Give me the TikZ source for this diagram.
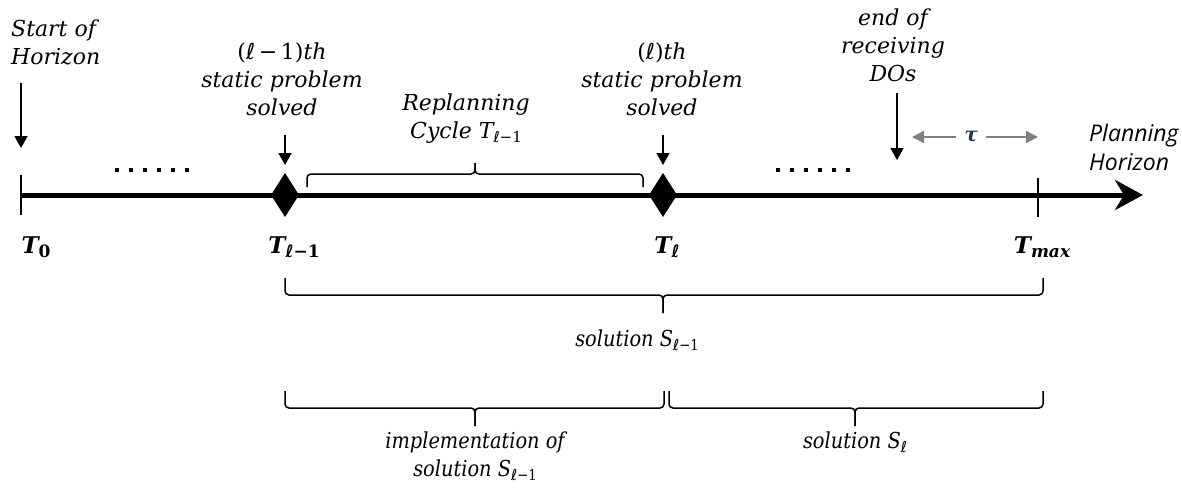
\documentclass[tikz,border=0pt]{standalone}
\usepackage{fontspec}
\setmainfont{DejaVu Serif}
\newfontfamily\narrowserif[FakeStretch=0.88]{DejaVu Serif}
\newfontfamily\sansit{Open Sans}
\newfontfamily\ellf{DejaVu Sans}
\usetikzlibrary{arrows.meta,calc}
\definecolor{taucol}{RGB}{35,50,90}
\definecolor{taugray}{RGB}{128,128,128}
\newcommand\myell{{\ellf ℓ}}
\newcommand\lsub[1]{\raisebox{-0.35ex}{\fontsize{15}{15}\selectfont #1}}
\newcommand\bsub[1]{\raisebox{-0.4ex}{\fontsize{17}{17}\selectfont #1}}
\newcommand\curly[6]{%
  \draw[bracestyle] (#1,#4) -- (#1,#5) -- (#3,#5) -- (#3,#6);
  \draw[bracestyle] (#2,#4) -- (#2,#5) -- (#3,#5) -- (#3,#6);}
\tikzset{
  lbl/.style={font=\fontsize{22}{28}\selectfont\itshape, align=center, inner sep=0pt},
  nlbl/.style={font=\narrowserif\fontsize{22}{28}\selectfont\itshape, align=center, inner sep=0pt},
  tlbl/.style={font=\fontsize{23}{26}\selectfont\bfseries\itshape, inner sep=0pt, anchor=base},
  pointer/.style={line width=1.6pt, -{Triangle[length=12pt,width=13pt]}},
  bracestyle/.style={line width=1.5pt, rounded corners=4pt},
  dotsq/.style={fill=black, minimum size=4.5pt, inner sep=0pt},
  tauarrow/.style={draw=taugray, line width=2pt, -{Triangle[length=12pt,width=12pt]}},
  axisline/.style={line width=5pt, -{Stealth[length=28pt,width=30pt,inset=9pt]}},
  tick/.style={line width=2pt}
}
\begin{document}
\begin{tikzpicture}[x=1pt,y=-1pt]
\useasboundingbox (0,0) rectangle (1182,488);
% axis
\coordinate (T0) at (20,195);
\coordinate (axisend) at (1143,195);
\draw[axisline] (T0) -- (axisend);
% ticks
\coordinate (t0top) at (21,175); \coordinate (t0bot) at (21,215);
\draw[tick] (t0top) -- (t0bot);
\coordinate (tmtop) at (1038,178); \coordinate (tmbot) at (1038,217);
\draw[tick] (tmtop) -- (tmbot);
% diamonds
\coordinate (dprev) at (285,195);
\coordinate (dcur) at (663,195);
\fill ($(dprev)+(0,-22)$) -- ($(dprev)+(14,0)$) -- ($(dprev)+(0,22)$) -- ($(dprev)+(-14,0)$) -- cycle;
\fill ($(dcur)+(0,-22)$) -- ($(dcur)+(14,0)$) -- ($(dcur)+(0,22)$) -- ($(dcur)+(-14,0)$) -- cycle;
% dots
\foreach \i in {0,...,5} {
  \node[dotsq] (da\i) at (117+14*\i,170) {};
  \node[dotsq] (db\i) at (778+14*\i,170) {};
}
% top labels
\node[lbl, align=left, anchor=west] (start) at (11,42) {Start of\\Horizon};
\node[lbl] (prevsolved) at (282,79) {{\upshape(}\myell\,{\upshape−\,1)}th\\static problem\\solved};
\node[lbl] (replan) at (466,119) {Replanning\\Cycle T\lsub{\myell{\upshape−1}}};
\node[lbl] (cursolved) at (662,79) {{\upshape(}\myell{\upshape)}th\\static problem\\solved};
\node[lbl] (enddo) at (893,45) {end of\\receiving\\DOs};
\node[font=\sansit\fontsize{23}{29}\selectfont\itshape, align=left, anchor=west, inner sep=0pt] (ph) at (1089,147) {Planning\\Horizon};
% pointer arrows
\coordinate (a1s) at (21,83); \coordinate (a1e) at (21,148);
\draw[pointer] (a1s) -- (a1e);
\coordinate (a2s) at (285,135); \coordinate (a2e) at (285,165);
\draw[pointer] (a2s) -- (a2e);
\coordinate (a3s) at (663,135); \coordinate (a3e) at (663,165);
\draw[pointer] (a3s) -- (a3e);
\coordinate (a4s) at (897,93); \coordinate (a4e) at (897,160);
\draw[pointer] (a4s) -- (a4e);
% tau
\node[font=\fontsize{20}{20}\selectfont\bfseries\itshape, text=taucol, inner xsep=8pt, inner ysep=0pt] (tau) at (971,137) {τ};
\coordinate (taul) at (912,137); \coordinate (taur) at (1038,137);
\draw[tauarrow] (tau.west) -- (taul);
\draw[tauarrow] (tau.east) -- (taur);
% T labels
\node[tlbl] (lT0) at (36,253) {T\bsub{\upshape 0}};
\node[tlbl] (lTprev) at (294,253) {T\bsub{\myell{\upshape −1}}};
\node[tlbl] (lTcur) at (667,253) {T\bsub{\myell}};
\node[tlbl] (lTmax) at (1042,253) {T\bsub{max}};
% braces
\curly{307}{643}{475}{187}{174}{163}
\curly{285}{1043}{663}{278}{295}{313}
\curly{285}{664}{475}{391}{408}{426}
\curly{669}{1043}{855}{391}{408}{426}
% bottom labels
\node[nlbl] (solprev) at (637,340) {solution S\lsub{\myell{\upshape−1}}};
\node[nlbl] (impl) at (475,456) {implementation of\\solution S\lsub{\myell{\upshape−1}}};
\node[nlbl] (solcur) at (855,442) {solution S\lsub{\myell}};
\end{tikzpicture}
\end{document}
